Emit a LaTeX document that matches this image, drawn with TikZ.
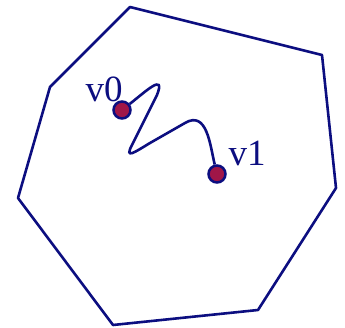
\documentclass[tikz,border=0pt]{standalone}
\usepackage{fontspec}
\setmainfont{Liberation Serif}
\definecolor{bord}{RGB}{12,14,128}
\definecolor{pointfill}{RGB}{160,22,72}
\tikzset{
  vertex/.style={circle,draw=bord,fill=pointfill,line width=2.5pt,minimum size=17pt,inner sep=0pt},
  lab/.style={text=bord,font=\fontsize{37}{38}\selectfont,inner sep=0pt},
  wire/.style={draw=bord,line width=2.6pt}
}
\begin{document}
\begin{tikzpicture}[x=1pt,y=-1pt]

\useasboundingbox (0,0) rectangle (345,328);

\draw[wire,line join=round]
(130,7)--(322,55)--(336,188)--(258,310)--(113,325)--(18,198)--(50,87)--cycle;

\node[vertex]
(v0)
at (122,110)
{};

\node[vertex]
(v1)
at (217,174)
{};

\node[lab]
(l0)
at (104,89)
{v0};

\node[lab]
(l1)
at (247,153)
{v1};

\draw[wire]
(v0) .. controls (145,92) and (166,72) .. (157,95) -- (132,145)
.. controls (124,160) and (135,152) .. (150,143) -- (185,123)
.. controls (207,110) and (210,145) .. (v1);

\end{tikzpicture}
\end{document}
